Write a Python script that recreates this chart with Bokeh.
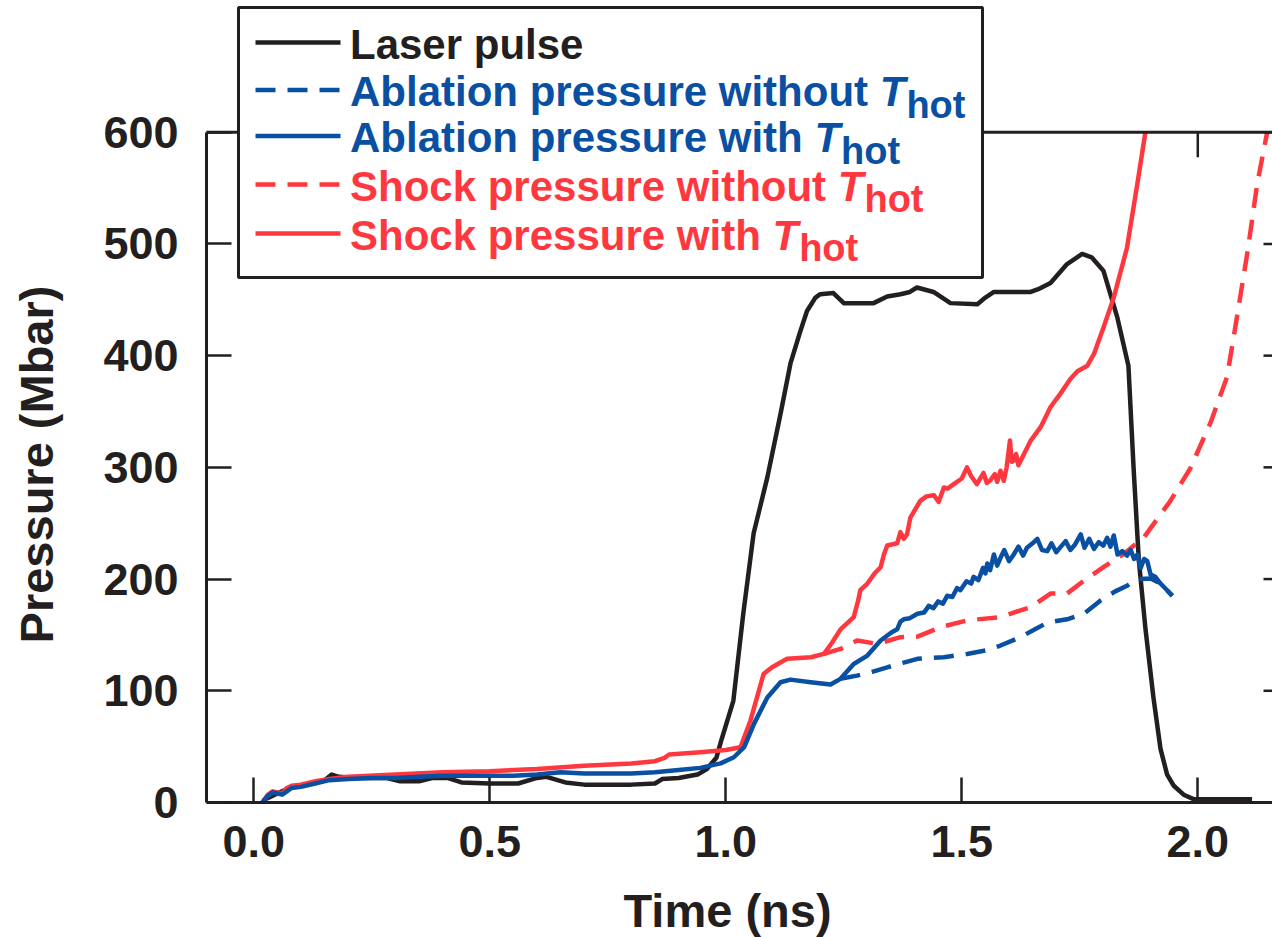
import math
from bokeh.plotting import figure
from bokeh.models import LinearAxis, FixedTicker, Range1d, BoxAnnotation, Label, Arrow
from bokeh.embed import file_html
from bokeh.resources import INLINE

# ---------------- data ----------------
laser_t = [0.02, 0.05, 0.08, 0.12, 0.15, 0.165, 0.18, 0.22, 0.28, 0.31, 0.35, 0.38, 0.41, 0.44, 0.5,
           0.56, 0.6, 0.62, 0.66, 0.7, 0.8, 0.85, 0.865, 0.9, 0.94, 0.96, 0.98, 0.99, 1.016, 1.037,
           1.059, 1.088, 1.116, 1.137, 1.158, 1.172, 1.19, 1.2, 1.228, 1.25, 1.313, 1.342, 1.37,
           1.39, 1.405, 1.44, 1.476, 1.533, 1.55, 1.568, 1.646, 1.665, 1.688, 1.723, 1.755, 1.775,
           1.8, 1.829, 1.853, 1.864, 1.875, 1.889, 1.906, 1.921, 1.935, 1.949, 1.97, 1.991, 2.115]
laser_p = [2, 8, 14, 17, 20, 25, 23, 22, 22, 19, 19, 22, 22, 18, 17,
           17, 22, 23, 18, 16, 16, 17, 21, 22, 25, 30, 40, 55, 91, 169,
           241, 291, 348, 393, 422, 440, 452, 455, 456, 447, 447, 453, 455,
           457, 461, 457, 447, 446, 452, 457, 457, 460, 465, 482, 491, 488,
           476, 435, 391, 299, 217, 156, 94, 48, 25, 15, 7, 3, 3]

abl_hot_t = [0.018, 0.03, 0.04, 0.05, 0.06, 0.07, 0.08, 0.1, 0.13, 0.16, 0.2, 0.25, 0.3, 0.35, 0.4,
             0.45, 0.5, 0.55, 0.6, 0.65, 0.7, 0.8, 0.85, 0.9, 0.946, 0.989, 1.017, 1.039, 1.06,
             1.088, 1.116, 1.137, 1.18, 1.222, 1.243, 1.271, 1.3, 1.328, 1.35, 1.363, 1.37, 1.377,
             1.39, 1.406, 1.42, 1.43, 1.44, 1.45, 1.46, 1.469, 1.48, 1.49, 1.497, 1.51, 1.52, 1.525,
             1.535, 1.545, 1.55, 1.554, 1.56, 1.568, 1.575, 1.582, 1.59, 1.6, 1.61, 1.62, 1.63,
             1.638, 1.65, 1.66, 1.67, 1.681, 1.69, 1.7, 1.71, 1.72, 1.73, 1.74, 1.752, 1.76, 1.77,
             1.78, 1.79, 1.8, 1.808, 1.815, 1.822, 1.83, 1.84, 1.85, 1.858, 1.865, 1.872, 1.879,
             1.886, 1.893, 1.9, 1.91, 1.921, 1.935, 1.946]
abl_hot_p = [0, 6, 9, 8, 7, 10, 13, 14, 17, 20, 21, 22, 22, 23, 24,
             24, 24, 24, 25, 27, 26, 26, 27, 29, 31, 35, 40.5, 49.5, 70.6,
             94, 107.6, 110, 107.6, 105.6, 110.7, 124, 131.5, 145, 152, 155, 162, 164,
             165, 169, 170, 176, 174, 180, 178, 185, 184, 192, 190, 198, 196, 202,
             199, 210, 205, 214, 208, 222, 212, 219, 226, 216, 222, 229, 221,
             228, 232, 236, 226, 225, 232, 224, 229, 234, 226, 231, 240, 228, 236,
             227, 233, 230, 237, 229, 239, 222, 225, 221, 226, 218, 222, 210,
             218, 216, 204, 202, 196, 190, 185]

abl_cold_t = [1.243, 1.278, 1.31, 1.342, 1.375, 1.406, 1.462, 1.511, 1.55, 1.582, 1.624, 1.655,
              1.681, 1.723, 1.759, 1.794, 1.825, 1.85, 1.872, 1.9, 1.921, 1.946]
abl_cold_p = [110.7, 113.6, 117, 121, 125, 128.6, 130, 133, 136, 140.5, 148, 155,
              161, 164, 169, 180.8, 189, 194, 200, 200.5, 196, 185]

shock_hot_t = [0.018, 0.03, 0.04, 0.05, 0.06, 0.07, 0.08, 0.1, 0.13, 0.16, 0.2, 0.3, 0.4, 0.5, 0.6,
               0.7, 0.8, 0.85, 0.87, 0.88, 0.946, 1.0, 1.031, 1.052, 1.07, 1.08, 1.098, 1.13, 1.18,
               1.208, 1.225, 1.243, 1.271, 1.28, 1.285, 1.3, 1.315, 1.328, 1.335, 1.342, 1.363,
               1.37, 1.377, 1.384, 1.391, 1.412, 1.425, 1.441, 1.451, 1.462, 1.47, 1.483, 1.5,
               1.511, 1.52, 1.532, 1.546, 1.553, 1.56, 1.57, 1.575, 1.582, 1.589, 1.595, 1.602,
               1.606, 1.61, 1.615, 1.62, 1.646, 1.667, 1.688, 1.709, 1.73, 1.745, 1.766, 1.78,
               1.8, 1.822, 1.85, 1.872, 1.889]
shock_hot_p = [0, 7, 10, 9, 8, 13, 15, 16, 19, 21, 23, 25, 27, 28, 30,
               33, 35, 37, 40, 43, 45, 47, 49.5, 73, 100, 115, 121, 128.6, 130,
               133, 143, 155, 166, 180, 190, 196, 205, 210.6, 222, 230, 232,
               242, 236, 240, 255, 270, 274, 275, 269, 282, 281, 285, 290,
               300, 292, 285, 295, 286, 288, 294, 287, 297, 288, 300, 324,
               305, 306, 312, 301.8, 324, 336, 354, 366, 379, 386, 391, 401.5,
               425, 452, 496.6, 554, 600]

shock_cold_t = [1.208, 1.243, 1.278, 1.321, 1.37, 1.406, 1.455, 1.511, 1.582, 1.646, 1.688, 1.723,
                1.759, 1.8, 1.843, 1.886, 1.9, 1.942, 1.984, 2.027, 2.062, 2.083, 2.105, 2.126,
                2.147]
shock_cold_p = [133, 137.5, 145, 142, 148, 148.5, 157, 163, 166, 175, 187, 187,
                198.7, 210.6, 222.5, 237.4, 245.6, 270, 299, 340, 381, 434.6, 492, 554,
                600]

x_ticks = [0.0, 0.5, 1.0, 1.5, 2.0]
x_tick_labels = ["0.0", "0.5", "1.0", "1.5", "2.0"]
y_ticks = [0, 100, 200, 300, 400, 500, 600]
y_max = 600
x_title = "Time (ns)"
y_title = "Pressure (Mbar)"

legend_prefix = ["Laser pulse", "Ablation pressure without ", "Ablation pressure with ",
                 "Shock pressure without ", "Shock pressure with "]
legend_has_thot = [False, True, True, True, True]

# ---------------- styling / geometry ----------------
BLACK = "#231f20"
BLUE = "#0a50a2"
RED = "#ff383f"
FONT = "Liberation Sans"
LW = 4.5

W, H = 1272, 937
SPINE_L, SPINE_B, SPINE_T = 206, 802, 131.7   # pixel positions of left / bottom / top spines
PX_PER_NS, T0_PX = 472.0, 253.3
PX_PER_MBAR = (SPINE_B - SPINE_T) / y_max
TICK = 25

# the frame covers the whole canvas; axes are pinned at their data locations
x_lo = (0 - T0_PX) / PX_PER_NS
x_hi = (W - T0_PX) / PX_PER_NS
y_lo = -(H - SPINE_B) / PX_PER_MBAR
y_hi = SPINE_B / PX_PER_MBAR
x_left_spine = (SPINE_L - T0_PX) / PX_PER_NS

p = figure(width=W, height=H, x_range=Range1d(x_lo, x_hi), y_range=Range1d(y_lo, y_hi),
           output_backend="svg", toolbar_location=None,
           x_axis_location=None, y_axis_location=None, min_border=0)
p.xgrid.visible = False
p.ygrid.visible = False
p.outline_line_color = None
p.background_fill_color = "white"
p.border_fill_color = "white"


def style_axis(ax):
    ax.axis_line_color = BLACK
    ax.axis_line_width = 3
    ax.major_tick_line_color = BLACK
    ax.major_tick_line_width = 2.5
    ax.major_tick_in = TICK
    ax.major_tick_out = 0
    ax.minor_tick_line_color = None
    ax.major_label_text_font = FONT
    ax.major_label_text_font_style = "bold"
    ax.major_label_text_color = BLACK
    ax.major_label_text_font_size = "45px"


bottom = LinearAxis(ticker=FixedTicker(ticks=x_ticks),
                    major_label_overrides=dict(zip(x_ticks, x_tick_labels)),
                    fixed_location=0, bounds=(x_left_spine, x_hi))
style_axis(bottom)
bottom.major_label_standoff = 23
p.add_layout(bottom, "below")

left = LinearAxis(ticker=FixedTicker(ticks=y_ticks), fixed_location=x_left_spine,
                  bounds=(0, y_max))
style_axis(left)
left.major_label_standoff = 28
p.add_layout(left, "left")

# ---------------- curves ----------------
series = [
    (laser_t, laser_p, BLACK, "solid"),
    (shock_cold_t, shock_cold_p, RED, "20 12"),
    (abl_cold_t, abl_cold_p, BLUE, "20 12"),
    (shock_hot_t, shock_hot_p, RED, "solid"),
    (abl_hot_t, abl_hot_p, BLUE, "solid"),
]
for xs, ys, c, d in series:
    p.line(xs, ys, line_color=c, line_width=LW, line_dash=d, line_join="round")

# ---------------- mirrored frame: top spine, top ticks, right ticks ----------------
tick_dy = TICK / PX_PER_MBAR
p.segment(x0=[x_left_spine], y0=[y_max], x1=[x_hi], y1=[y_max], line_color=BLACK, line_width=3)
p.segment(x0=x_ticks, y0=[y_max] * len(x_ticks), x1=x_ticks, y1=[y_max - tick_dy] * len(x_ticks),
          line_color=BLACK, line_width=2.5)
right_spine_t = (1288 - T0_PX) / PX_PER_NS   # right spine lies just beyond the picture edge
tick_dx = TICK / PX_PER_NS
p.segment(x0=[right_spine_t - tick_dx] * len(y_ticks), y0=y_ticks,
          x1=[right_spine_t] * len(y_ticks), y1=y_ticks, line_color=BLACK, line_width=2.5)


# ---------------- screen-unit helpers (frame == canvas) ----------------
def sx(px):
    return px


def sy(py):
    return H - py


# axis titles
p.add_layout(Label(x=sx(727), y=sy(910), x_units="screen", y_units="screen", text=x_title,
                   text_font=FONT, text_font_style="bold", text_font_size="47px",
                   text_color=BLACK, text_align="center", text_baseline="middle"))
p.add_layout(Label(x=sx(36), y=sy(464), x_units="screen", y_units="screen", text=y_title,
                   angle=math.pi / 2, text_font=FONT, text_font_style="bold",
                   text_font_size="47px", text_color=BLACK, text_align="center",
                   text_baseline="middle"))

# ---------------- legend (drawn by hand) ----------------
p.add_layout(BoxAnnotation(left=sx(238), right=sx(982), top=sy(7), bottom=sy(277),
                           left_units="screen", right_units="screen",
                           top_units="screen", bottom_units="screen",
                           fill_color="white", fill_alpha=1.0,
                           line_color=BLACK, line_width=3, line_alpha=1.0))

# Arial/Liberation Sans Bold advance widths (per 1000 em)
AB = {' ': 278, 'A': 722, 'L': 611, 'S': 667, 'a': 556, 'b': 611, 'c': 556, 'e': 556, 'h': 611,
      'i': 278, 'k': 556, 'l': 278, 'n': 611, 'o': 611, 'p': 611, 'r': 389, 's': 556, 't': 333,
      'u': 611, 'w': 778, 'T': 611}


def text_w(s, size):
    return sum(AB.get(ch, 556) for ch in s) * size / 1000.0


legend_colors = [BLACK, BLUE, BLUE, RED, RED]
legend_dashes = ["solid", "20 12", "solid", "20 12", "solid"]
row_y = [42, 89.5, 135.5, 184, 233]
TXT = 42
SUB = 38
TX0 = 349.5
for name, thot, c, d, ry in zip(legend_prefix, legend_has_thot, legend_colors, legend_dashes, row_y):
    p.add_layout(Arrow(x_start=sx(255), y_start=sy(ry), x_end=sx(340), y_end=sy(ry),
                       start_units="screen", end_units="screen", start=None, end=None,
                       line_color=c, line_width=LW, line_dash=d))
    mid = ry + 1.5
    p.add_layout(Label(x=sx(TX0), y=sy(mid), x_units="screen", y_units="screen", text=name,
                       text_font=FONT, text_font_style="bold", text_font_size=f"{TXT}px",
                       text_color=c, text_align="left", text_baseline="middle"))
    if thot:
        tx = TX0 + text_w(name, TXT)
        p.add_layout(Label(x=sx(tx), y=sy(mid), x_units="screen", y_units="screen", text="T",
                           text_font=FONT, text_font_style="bold italic", text_font_size=f"{TXT}px",
                           text_color=c, text_align="left", text_baseline="middle"))
        hx = tx + text_w("T", TXT) + 1
        p.add_layout(Label(x=sx(hx), y=sy(mid + 13), x_units="screen", y_units="screen", text="hot",
                           text_font=FONT, text_font_style="bold", text_font_size=f"{SUB}px",
                           text_color=c, text_align="left", text_baseline="middle"))

open("out.html", "w").write(file_html(p, INLINE))
